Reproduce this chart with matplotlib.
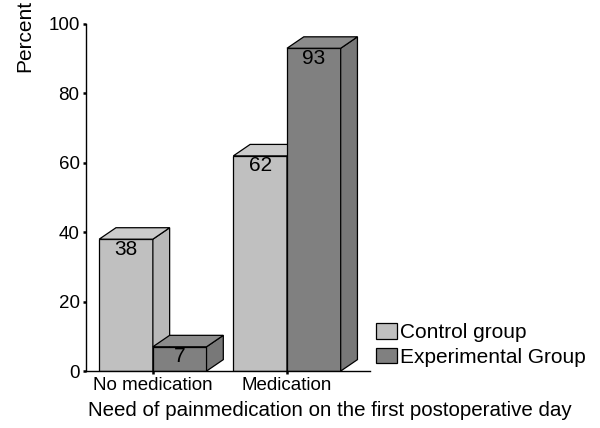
import matplotlib.pyplot as plt
from matplotlib.patches import Polygon, Patch

plt.rcParams['font.family'] = ['Liberation Sans', 'DejaVu Sans']

# Data
categories = ['No medication', 'Medication']
groups = ['Control group', 'Experimental Group']
control = [38, 62]
experimental = [7, 93]
yticks = [0, 20, 40, 60, 80, 100]

# Colours (front, side, top)
colors = {
    'Control group': ('#c0c0c0', '#b9b9b9', '#cccccc'),
    'Experimental Group': ('#808080', '#787878', '#8c8c8c'),
}

width = 0.40
dx, dy = 0.125, 3.3   # fake 3D depth

fig = plt.figure(figsize=(6, 4.28), dpi=100)
ax = fig.add_axes([0.143, 0.133, 0.474, 0.811])


def bar3d(ax, x0, h, front, side, top):
    x1 = x0 + width
    ax.bar(x0, h, width=width, align='edge', color=front, edgecolor='black',
           linewidth=0.9, zorder=2)
    ax.add_patch(Polygon([(x1, 0), (x1 + dx, dy), (x1 + dx, h + dy), (x1, h)],
                         closed=True, facecolor=side, edgecolor='black',
                         linewidth=0.9, zorder=2))
    ax.add_patch(Polygon([(x0, h), (x0 + dx, h + dy), (x1 + dx, h + dy), (x1, h)],
                         closed=True, facecolor=top, edgecolor='black',
                         linewidth=0.9, zorder=2))
    ax.text(x0 + width / 2, h - 2.9, str(h), ha='center', va='center',
            fontsize=15, zorder=3)


for i in range(len(categories)):
    bar3d(ax, i - width, control[i], *colors['Control group'])
    bar3d(ax, i, experimental[i], *colors['Experimental Group'])

ax.set_xlim(-0.5, 1.62)
ax.set_ylim(0, 100)
ax.set_yticks(yticks)
ax.set_xticks(range(len(categories)))
ax.set_xticklabels(categories)
ax.tick_params(axis='both', direction='out', length=2.5, width=1.8,
               labelsize=13.5, pad=2)
for s in ['top', 'right']:
    ax.spines[s].set_visible(False)
ax.spines['left'].set_linewidth(1.0)
ax.spines['bottom'].set_linewidth(1.0)

fig.text(0.042, 1.0, 'Percent', rotation=90, ha='center', va='top', fontsize=15)
fig.text(0.55, 0.042, 'Need of painmedication on the first postoperative day',
         ha='center', va='center', fontsize=14.8)

handles = [Patch(facecolor=colors[g][0], edgecolor='black', linewidth=0.9)
           for g in groups]
fig.legend(handles, groups, loc='center left', bbox_to_anchor=(0.627, 0.194),
           frameon=False, fontsize=15, handlelength=1.0, handleheight=0.75,
           handletextpad=0.15, labelspacing=0.25, borderpad=0, borderaxespad=0)

fig.savefig('out.png', dpi=100)
